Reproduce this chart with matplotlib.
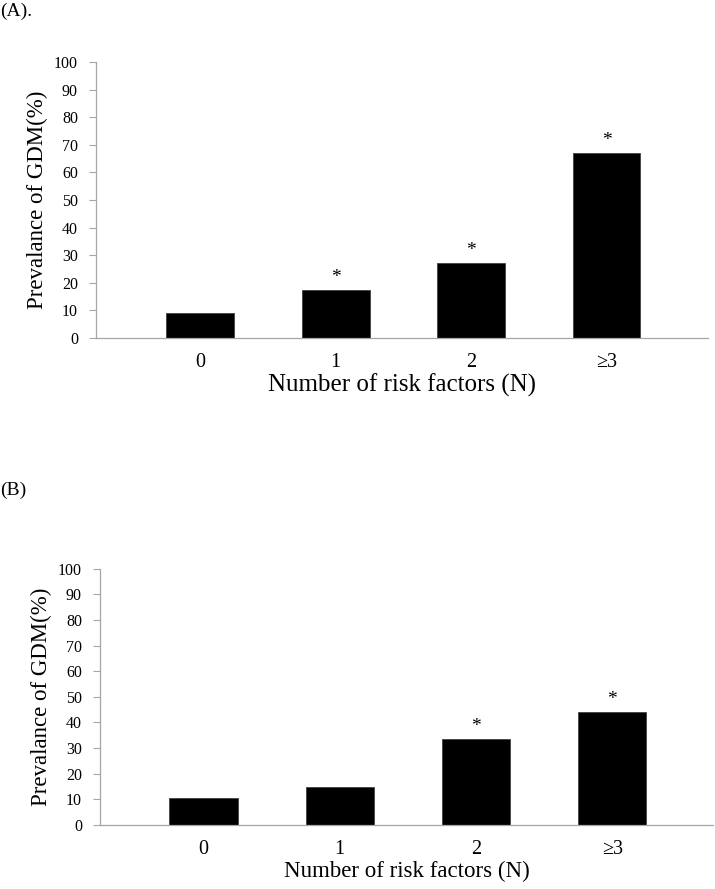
"""
GDM prevalence by number of risk factors, two panels (A) and (B).
"""
import matplotlib
matplotlib.use("Agg")
import matplotlib.pyplot as plt

CATEGORIES = ["0", "1", "2", "\u22653"]
PREV_A = [8.9, 17.4, 27.1, 66.9]
PREV_B = [10.4, 14.9, 33.4, 44.0]
SIG_A = [False, True, True, True]
SIG_B = [False, False, True, True]
PANEL_LABELS = ["(A).", "(B)"]
Y_TICKS = list(range(0, 101, 10))

AXIS_GRAY = "#a6a6a6"
SERIF = ["Liberation Serif", "DejaVu Serif"]

plt.rcParams["font.family"] = SERIF


def draw_panel(ax, values, sig, xlim, xlabel_size):
    x = list(range(len(CATEGORIES)))
    ax.bar(x, values, width=0.5, color="black", edgecolor="#404040",
           linewidth=0.6, zorder=2)

    for xi, v, s in zip(x, values, sig):
        if s:
            ax.annotate("*", (xi, v), xytext=(0, 3), textcoords="offset points",
                        ha="center", va="bottom", fontsize=14)

    ax.set_ylim(0, 100)
    ax.set_xlim(*xlim)
    ax.set_yticks(Y_TICKS)
    ax.set_yticklabels([str(t) for t in Y_TICKS], fontsize=11.5)
    ax.set_xticks(x)
    ax.set_xticklabels(CATEGORIES, fontsize=14.5)
    ax.tick_params(axis="x", length=0, pad=11)
    ax.tick_params(axis="y", length=5, width=0.8, color=AXIS_GRAY, pad=8)

    for side in ("top", "right"):
        ax.spines[side].set_visible(False)
    for side in ("left", "bottom"):
        ax.spines[side].set_color(AXIS_GRAY)
        ax.spines[side].set_linewidth(0.9)

    ax.set_ylabel("Prevalance of GDM(%)", fontsize=16.5, labelpad=4)
    ax.set_xlabel("Number of risk factors (N)", fontsize=xlabel_size, labelpad=1)


fig = plt.figure(figsize=(7.15, 8.89), dpi=100)
fig.patch.set_facecolor("white")

ax_a = fig.add_axes([96 / 715, 1 - 338 / 889, 612 / 715, 276 / 889])
draw_panel(ax_a, PREV_A, SIG_A, (-0.77, 3.75), 18)

ax_b = fig.add_axes([100 / 715, 1 - 825 / 889, 613 / 715, 256.3 / 889])
draw_panel(ax_b, PREV_B, SIG_B, (-0.76, 3.74), 16.5)

fig.text(0.0, 1 - 11 / 889, PANEL_LABELS[0], ha="left", va="center", fontsize=14)
fig.text(0.0, 1 - 490 / 889, PANEL_LABELS[1], ha="left", va="center", fontsize=14)

fig.savefig("out.png", dpi=100, facecolor="white")
plt.close(fig)
